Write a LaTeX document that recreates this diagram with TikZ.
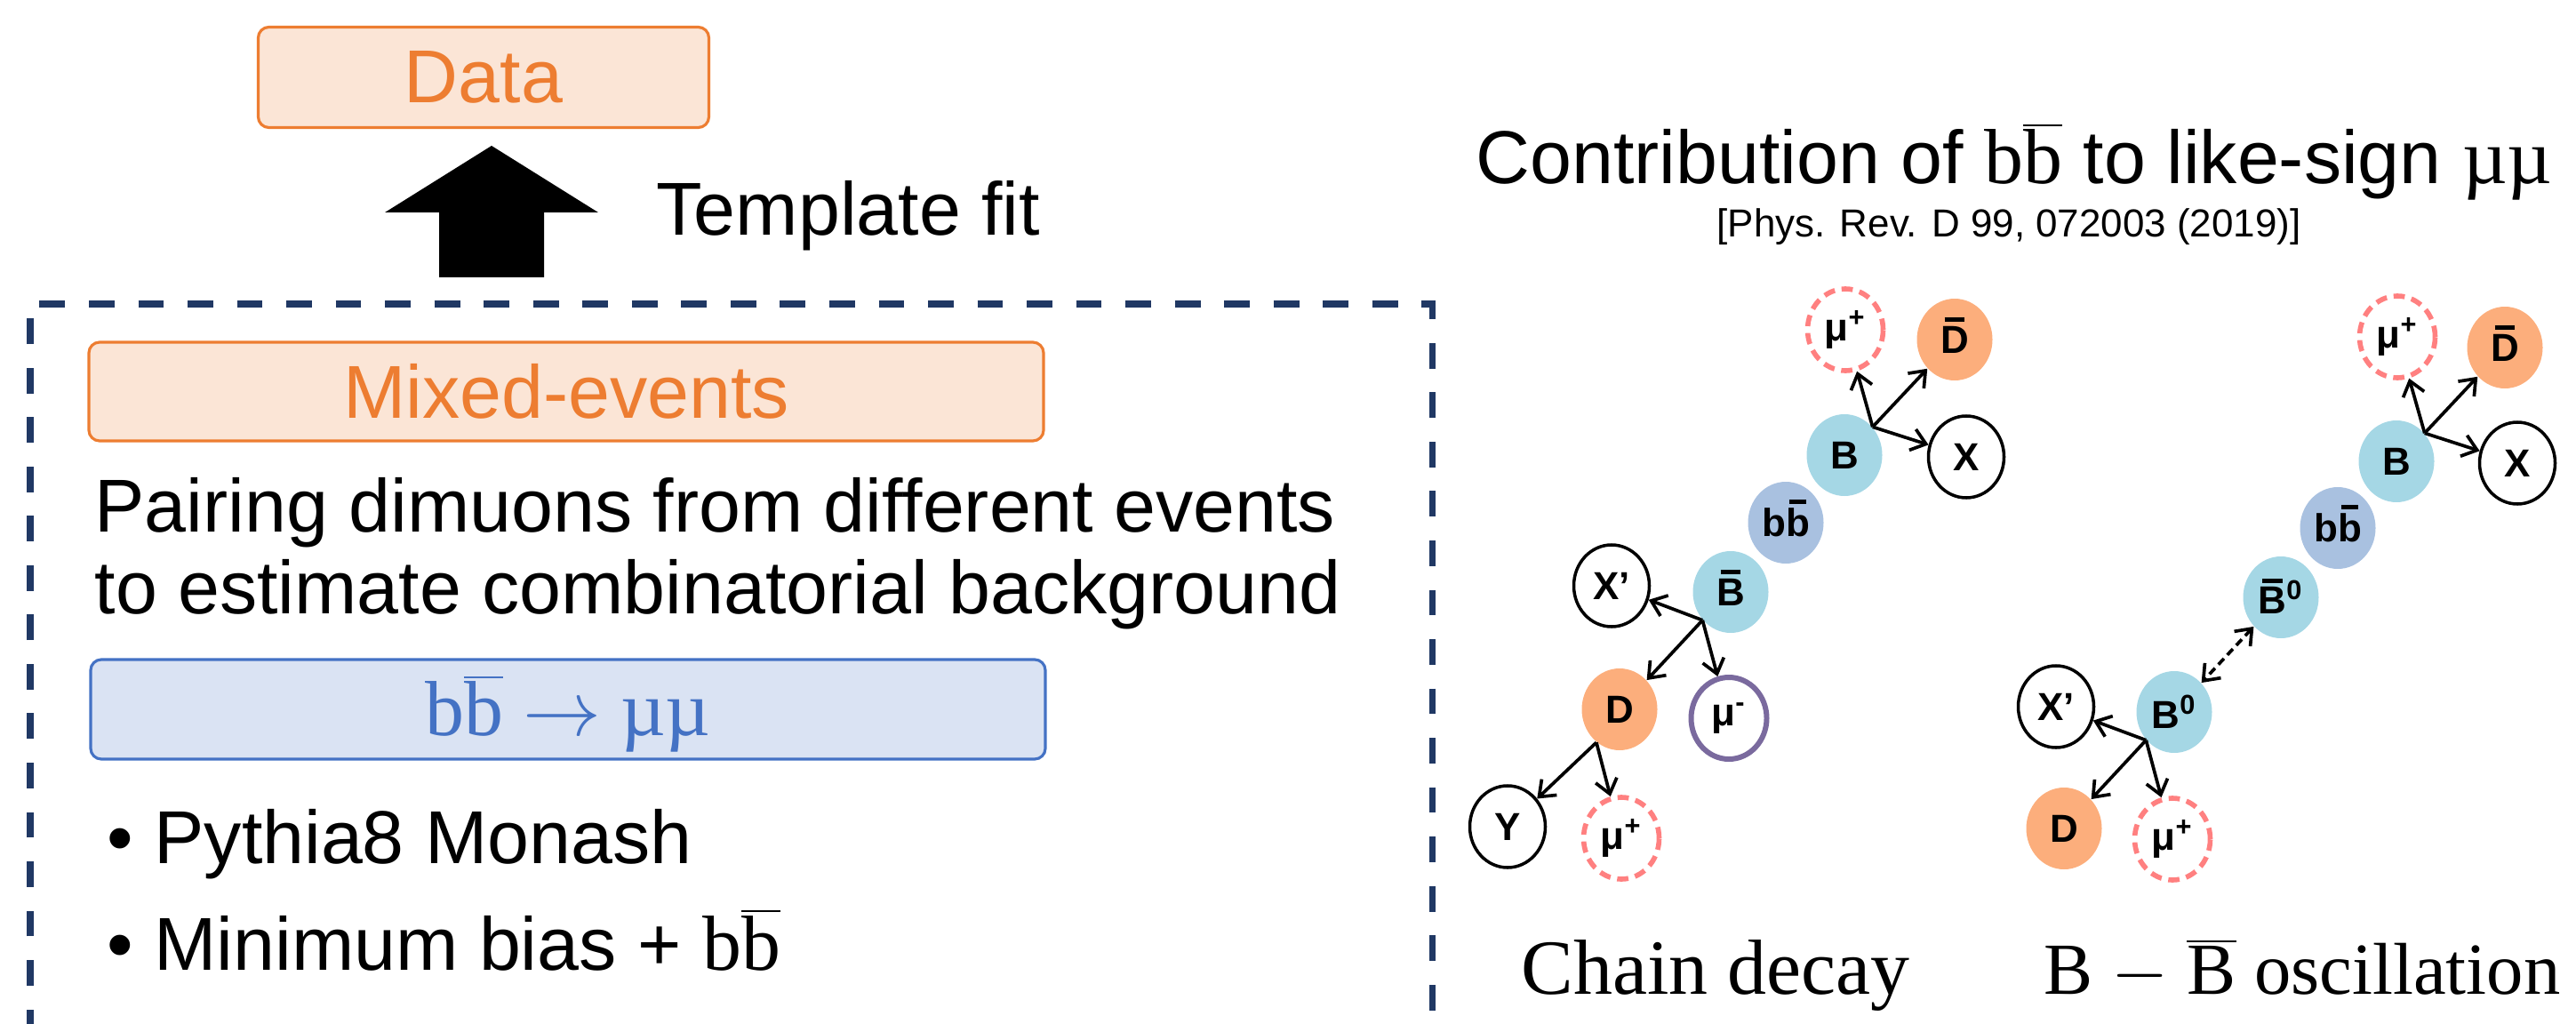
\documentclass[tikz,border=0pt]{standalone}
\usepackage{fix-cm}
\usepackage{fontspec}
\setmainfont{Liberation Serif}
\setsansfont{Liberation Sans}
\usetikzlibrary{shapes.geometric, arrows.meta}
\definecolor{orgline}{HTML}{ED7D31}
\definecolor{orgfill}{HTML}{FBE5D6}
\definecolor{blueline}{HTML}{4472C4}
\definecolor{bluefill}{HTML}{DAE3F3}
\definecolor{navy}{HTML}{203864}
\definecolor{bfill}{HTML}{A5D7E5}
\definecolor{bbfill}{HTML}{A9C1E0}
\definecolor{dfill}{HTML}{FCAE7C}
\definecolor{mupink}{HTML}{FF8080}
\definecolor{mupurple}{HTML}{7A6A9E}
\newsavebox\ovbox
\newcommand\ovbar[1]{\sbox\ovbox{#1}\rlap{\smash{\hbox to \wd\ovbox{\hss\vrule width .72\wd\ovbox height \dimexpr\ht\ovbox+2.8pt\relax depth -\dimexpr\ht\ovbox+1.4pt\relax\hss}}}\usebox\ovbox}
\newcommand\bbsym{b$\overline{\mbox{b}}$}
\tikzset{
    ptcl/.style={ellipse, minimum width=0.85cm, minimum height=0.92cm, inner sep=0pt, font=\sffamily\bfseries\fontsize{12.5}{13}\selectfont},
    bmes/.style={ptcl, fill=bfill},
    dmes/.style={ptcl, fill=dfill},
    bbq/.style={ptcl, fill=bbfill},
    other/.style={ptcl, draw=black, line width=1pt, fill=white},
    muon/.style={ptcl, draw=mupink, line width=1.6pt, dash pattern=on 3.6pt off 2.2pt},
    muneg/.style={ptcl, draw=mupurple, line width=1.7pt},
    decay/.style={-{Straight Barb[length=4.5pt, width=7pt]}, line width=1.05pt},
    mixing/.style={{Straight Barb[length=4.5pt, width=7pt]}-{Straight Barb[length=4.5pt, width=7pt]}, line width=1.05pt, dash pattern=on 2.6pt off 1.6pt},
    tagbox/.style={draw, rounded corners=0.12cm, line width=0.9pt, inner sep=0pt},
    big/.style={font=\sffamily\fontsize{24}{26}\selectfont},
    serifbig/.style={font=\rmfamily\fontsize{25}{27}\selectfont}
}
\begin{document}
\begin{tikzpicture}
            \useasboundingbox (0,0) rectangle (28.98,-11.52);
            \node[tagbox, draw=orgline, fill=orgfill, text=orgline, big, minimum width=5.07cm, minimum height=1.13cm] (data) at (5.44,-0.87) {Data};
            \fill (5.53,-1.64) -- (6.73,-2.39) -- (6.12,-2.39) -- (6.12,-3.12) -- (4.94,-3.12) -- (4.94,-2.39) -- (4.33,-2.39) -- cycle;
            \node[big, anchor=base west, inner sep=0pt] (fit) at (7.38,-2.65) {Template fit};
            \draw[navy, line width=2pt, dash pattern=on 8.2pt off 7.6pt] (0.34,-12.2) -- (0.34,-3.42) -- (16.11,-3.42) -- (16.11,-12.2);
            \node[tagbox, draw=orgline, fill=orgfill, text=orgline, big, minimum width=10.74cm, minimum height=1.11cm] (mixed) at (6.37,-4.405) {Mixed-events};
            \node[big, anchor=north west, inner sep=0pt, align=left] (pairing) at (1.06,-5.37) {Pairing dimuons from different events\\to estimate combinatorial background};
            \node[tagbox, draw=blueline, fill=bluefill, text=blueline, serifbig, minimum width=10.74cm, minimum height=1.12cm, text height=22pt, text depth=5pt] (bbmumu) at (6.39,-7.98) {\bbsym{} $\rightarrow$ µµ};
            \node[big, anchor=base west, inner sep=0pt] (pythia) at (1.20,-9.71) {• Pythia8 Monash};
            \node[big, anchor=base west, inner sep=0pt] (minbias) at (1.20,-10.91) {• Minimum bias + {\rmfamily\fontsize{25}{27}\selectfont\bbsym}};
            \node[big, anchor=base, inner sep=0pt] (title) at (22.66,-2.07) {Contribution of {\rmfamily\fontsize{25}{27}\selectfont\bbsym} to like-sign {\rmfamily\fontsize{25}{27}\selectfont µµ}};
            \node[font=\sffamily\fontsize{12.5}{14}\selectfont, anchor=base, inner sep=0pt] (cite) at (22.60,-2.66) {[Phys. Rev. D 99, 072003 (2019)]};
            \node[muon] (mu1) at (20.76,-3.71) {μ\textsuperscript{+}};
            \node[dmes] (Dbar1) at (21.99,-3.82) {\ovbar{D}};
            \node[bmes] (B1) at (20.75,-5.12) {B};
            \node[other] (X1) at (22.12,-5.14) {X};
            \node[bbq] (bb1) at (20.09,-5.88) {b\ovbar{b}};
            \node[bmes] (Bbar1) at (19.47,-6.66) {\ovbar{B}};
            \node[other] (Xp1) at (18.13,-6.59) {X’};
            \node[dmes] (D1) at (18.22,-7.98) {D};
            \node[muneg] (mum1) at (19.45,-8.08) {μ\textsuperscript{-}};
            \node[other] (Y1) at (16.96,-9.30) {Y};
            \node[muon] (mu2) at (18.24,-9.43) {μ\textsuperscript{+}};
            \draw[decay] (B1.45) -- (mu1);
            \draw[decay] (B1.45) -- (Dbar1);
            \draw[decay] (B1.45) -- (X1);
            \draw[decay] (Bbar1.225) -- (Xp1);
            \draw[decay] (Bbar1.225) -- (D1);
            \draw[decay] (Bbar1.225) -- (mum1);
            \draw[decay] (D1.235) -- (Y1);
            \draw[decay] (D1.235) -- (mu2);
            \node[muon] (mu3) at (26.97,-3.79) {μ\textsuperscript{+}};
            \node[dmes] (Dbar2) at (28.18,-3.91) {\ovbar{D}};
            \node[bmes] (B2) at (26.96,-5.19) {B};
            \node[other] (X2) at (28.32,-5.21) {X};
            \node[bbq] (bb2) at (26.30,-5.94) {b\ovbar{b}};
            \node[bmes] (Bb0) at (25.66,-6.72) {\ovbar{B}\textsuperscript{0}};
            \node[bmes] (B0) at (24.46,-8.01) {B\textsuperscript{0}};
            \node[other] (Xp2) at (23.13,-7.95) {X’};
            \node[dmes] (D2) at (23.22,-9.32) {D};
            \node[muon] (mu4) at (24.44,-9.44) {μ\textsuperscript{+}};
            \draw[decay] (B2.45) -- (mu3);
            \draw[decay] (B2.45) -- (Dbar2);
            \draw[decay] (B2.45) -- (X2);
            \draw[mixing] (Bb0) -- (B0);
            \draw[decay] (B0.225) -- (Xp2);
            \draw[decay] (B0.225) -- (D2);
            \draw[decay] (B0.225) -- (mu4);
            \node[serifbig, anchor=base, inner sep=0pt] (chain) at (19.30,-11.18) {Chain decay};
            \node[font=\rmfamily\fontsize{23.5}{26}\selectfont, anchor=base, inner sep=0pt] (osc) at (25.90,-11.18) {B $-$ $\overline{\mbox{B}}$ oscillation};
\end{tikzpicture}
\end{document}
